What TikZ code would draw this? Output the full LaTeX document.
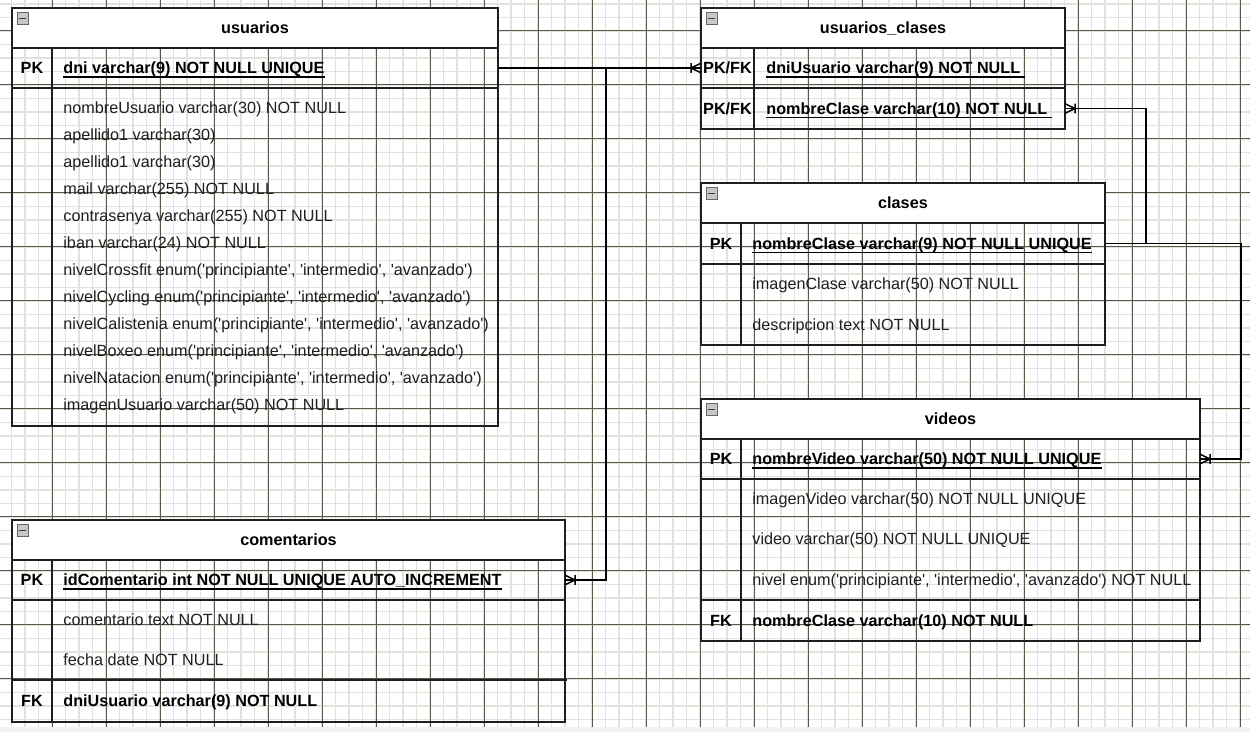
\documentclass[tikz,border=0pt]{standalone}
\usepackage{fontspec}
\setmainfont{Liberation Sans}
\usepackage{tikz}
\usetikzlibrary{fit}
\newcommand{\sq}{\textquotesingle}
\definecolor{erline}{RGB}{30,30,30}
\definecolor{gridmajor}{RGB}{84,92,72}
\definecolor{gridminor}{RGB}{224,226,224}
\definecolor{iconfill}{RGB}{175,175,175}

\pgfdeclarearrow{
  name = ERmany,
  setup code = {
    \pgfarrowssettipend{0pt}
    \pgfarrowssetlineend{0pt}
    \pgfarrowssetbackend{-5pt}
    \pgfarrowshullpoint{0pt}{2.4pt}
    \pgfarrowshullpoint{0pt}{-2.4pt}
    \pgfarrowshullpoint{-5pt}{2.4pt}
    \pgfarrowshullpoint{-5pt}{-2.4pt}
  },
  drawing code = {
    \pgfsetdash{}{0pt}
    \pgfsetroundjoin
    \pgfsetbuttcap
    \pgfpathmoveto{\pgfqpoint{0pt}{2.4pt}}
    \pgfpathlineto{\pgfqpoint{-5pt}{0pt}}
    \pgfpathlineto{\pgfqpoint{0pt}{-2.4pt}}
    \pgfpathmoveto{\pgfqpoint{-5pt}{2.4pt}}
    \pgfpathlineto{\pgfqpoint{-5pt}{-2.4pt}}
    \pgfusepathqstroke
  }
}

\tikzset{
  tablebox/.style={draw=erline, line width=1pt, inner sep=0pt, outer sep=0pt},
  headbox/.style={tablebox, fill=white},
  titletext/.style={inner sep=0pt, text height=5.8pt, text depth=0pt, font=\fontsize{8.1}{9.7}\selectfont\bfseries},
  rowline/.style={draw=erline, line width=1pt},
  keytext/.style={inner sep=0pt, text height=5.8pt, text depth=0pt, font=\fontsize{8.1}{9.7}\selectfont\bfseries},
  fieldtext/.style={anchor=west, inner sep=0pt, text height=5.8pt, text depth=0pt, text=black!88, font=\fontsize{8.1}{9.7}\selectfont},
  pkfield/.style={fieldtext, text=black, font=\fontsize{8.1}{9.7}\selectfont\bfseries},
  ulfield/.style={pkfield, append after command={([yshift=-1.4pt]\tikzlastnode.south west) edge[draw=black, line width=0.6pt] ([yshift=-1.4pt]\tikzlastnode.south east)}},
  minusicon/.style={draw=gray!80!black, line width=0.4pt, fill=iconfill!70, minimum size=5.6pt, inner sep=0pt,
    path picture={\draw[black!75, line width=0.9pt] ([xshift=-1.8pt]path picture bounding box.center) -- ([xshift=1.8pt]path picture bounding box.center);}},
  relation/.style={draw=black, line width=0.75pt, -ERmany},
}

\begin{document}
\begin{tikzpicture}[x=0.5pt,y=-0.5pt]
\useasboundingbox (0,0) rectangle (1250,732);
\fill[white] (0,0) rectangle (1250,732);
\foreach \k in {0,...,93} \draw[gridminor, line width=0.6pt] ({-2+13.5*\k},0) -- ({-2+13.5*\k},732);
\foreach \k in {0,...,55} \draw[gridminor, line width=0.6pt] (0,{-9.5+13.5*\k}) -- (1250,{-9.5+13.5*\k});
\foreach \k in {1,...,23} \draw[gridmajor, line width=0.5pt] ({-2+54*\k},0) -- ({-2+54*\k},732);
\foreach \k in {1,...,13} \draw[gridmajor, line width=0.5pt] (0,{-23+54*\k}) -- (1250,{-23+54*\k});
\fill[gray!10] (0,727) rectangle (1250,732);

\node[tablebox, fit={(12,8) (498,426)}] (usuarios) {};
\node[headbox, fit={(12,8) (498,48)}] (usuarios-head) {};
\node[titletext] (usuarios-title) at (usuarios-head) {usuarios};
\node[minusicon] (usuarios-fold) at (22.5,18.5) {};
\draw[rowline] (12,88) -- (498,88);
\draw[rowline] (52,48) -- (52,426);
\node[keytext] (usuarios-pk) at (32,68) {PK};
\node[ulfield] (usuarios-dni) at (63,68) {dni varchar(9) NOT NULL UNIQUE};
\node[fieldtext] (usuarios-f1) at (63,108) {nombreUsuario varchar(30) NOT NULL};
\node[fieldtext] (usuarios-f2) at (63,135) {apellido1 varchar(30)};
\node[fieldtext] (usuarios-f3) at (63,162) {apellido1 varchar(30)};
\node[fieldtext] (usuarios-f4) at (63,189) {mail varchar(255) NOT NULL};
\node[fieldtext] (usuarios-f5) at (63,216) {contrasenya varchar(255) NOT NULL};
\node[fieldtext] (usuarios-f6) at (63,243) {iban varchar(24) NOT NULL};
\node[fieldtext] (usuarios-f7) at (63,270) {nivelCrossfit enum(\sq principiante\sq, \sq intermedio\sq, \sq avanzado\sq)};
\node[fieldtext] (usuarios-f8) at (63,297) {nivelCycling enum(\sq principiante\sq, \sq intermedio\sq, \sq avanzado\sq)};
\node[fieldtext] (usuarios-f9) at (63,324) {nivelCalistenia enum(\sq principiante\sq, \sq intermedio\sq, \sq avanzado\sq)};
\node[fieldtext] (usuarios-f10) at (63,351) {nivelBoxeo enum(\sq principiante\sq, \sq intermedio\sq, \sq avanzado\sq)};
\node[fieldtext] (usuarios-f11) at (63,378) {nivelNatacion enum(\sq principiante\sq, \sq intermedio\sq, \sq avanzado\sq)};
\node[fieldtext] (usuarios-f12) at (63,405) {imagenUsuario varchar(50) NOT NULL};

\node[tablebox, fit={(701,8) (1065,129)}] (usuclases) {};
\node[headbox, fit={(701,8) (1065,48)}] (usuclases-head) {};
\node[titletext] (usuclases-title) at (usuclases-head) {usuarios\_clases};
\node[minusicon] (usuclases-fold) at (711.5,18.5) {};
\draw[rowline] (701,88) -- (1065,88);
\draw[rowline] (754,48) -- (754,129);
\node[keytext] (usuclases-pk1) at (727.5,68) {PK/FK};
\node[ulfield] (usuclases-dni) at (766,68) {dniUsuario varchar(9) NOT NULL\kern2.3pt};
\node[keytext] (usuclases-pk2) at (727.5,108.5) {PK/FK};
\node[ulfield] (usuclases-nom) at (766,108.5) {nombreClase varchar(10) NOT NULL\kern2.3pt};

\node[tablebox, fit={(701,183) (1105,345)}] (clases) {};
\node[headbox, fit={(701,183) (1105,223)}] (clases-head) {};
\node[titletext] (clases-title) at (clases-head) {clases};
\node[minusicon] (clases-fold) at (711.5,193.5) {};
\draw[rowline] (701,264) -- (1105,264);
\draw[rowline] (741,223) -- (741,345);
\node[keytext] (clases-pk) at (721,243.5) {PK};
\node[ulfield] (clases-nom) at (752,243.5) {nombreClase varchar(9) NOT NULL UNIQUE};
\node[fieldtext] (clases-f1) at (752,284) {imagenClase varchar(50) NOT NULL};
\node[fieldtext] (clases-f2) at (752,325) {descripcion text NOT NULL};

\node[tablebox, fit={(701,399) (1200,641)}] (videos) {};
\node[headbox, fit={(701,399) (1200,439)}] (videos-head) {};
\node[titletext] (videos-title) at (videos-head) {videos};
\node[minusicon] (videos-fold) at (711.5,409.5) {};
\draw[rowline] (701,479) -- (1200,479);
\draw[rowline] (701,600) -- (1200,600);
\draw[rowline] (741,439) -- (741,641);
\node[keytext] (videos-pk) at (721,459) {PK};
\node[ulfield] (videos-nom) at (752,459) {nombreVideo varchar(50) NOT NULL UNIQUE};
\node[fieldtext] (videos-f1) at (752,499) {imagenVideo varchar(50) NOT NULL UNIQUE};
\node[fieldtext] (videos-f2) at (752,539) {video varchar(50) NOT NULL UNIQUE};
\node[fieldtext] (videos-f3) at (752,579.5) {nivel enum(\sq principiante\sq, \sq intermedio\sq, \sq avanzado\sq) NOT NULL};
\node[keytext] (videos-fk) at (721,620.5) {FK};
\node[pkfield] (videos-clase) at (752,620.5) {nombreClase varchar(10) NOT NULL};

\node[tablebox, fit={(12,520) (565,722)}] (comentarios) {};
\node[headbox, fit={(12,520) (565,560)}] (comentarios-head) {};
\node[titletext] (comentarios-title) at (comentarios-head) {comentarios};
\node[minusicon] (comentarios-fold) at (22.5,530.5) {};
\draw[rowline] (12,600) -- (565,600);
\draw[rowline] (12,680) -- (567,680);
\draw[rowline] (52,560) -- (52,722);
\node[keytext] (comentarios-pk) at (32,580) {PK};
\node[ulfield] (comentarios-id) at (63,580) {idComentario int NOT NULL UNIQUE AUTO\_INCREMENT};
\node[fieldtext] (comentarios-f1) at (63,620) {comentario text NOT NULL};
\node[fieldtext] (comentarios-f2) at (63,660) {fecha date NOT NULL};
\node[keytext] (comentarios-fk) at (32,701) {FK};
\node[pkfield] (comentarios-dni) at (63,701) {dniUsuario varchar(9) NOT NULL};

\coordinate (bend-com) at (606,580);
\coordinate (bend-ucl) at (1146,108.5);
\coordinate (bend-vid) at (1241,459);
\draw[relation] (usuarios.east |- usuarios-dni) -- (usuclases.west |- usuarios-dni);
\draw[relation] (usuarios.east |- usuarios-dni) -| (bend-com) -- (comentarios.east |- bend-com);
\draw[relation] (clases.east |- clases-nom) -| (bend-ucl) -- (usuclases.east |- bend-ucl);
\draw[relation] (clases.east |- clases-nom) -| (bend-vid) -- (videos.east |- bend-vid);
\end{tikzpicture}
\end{document}
